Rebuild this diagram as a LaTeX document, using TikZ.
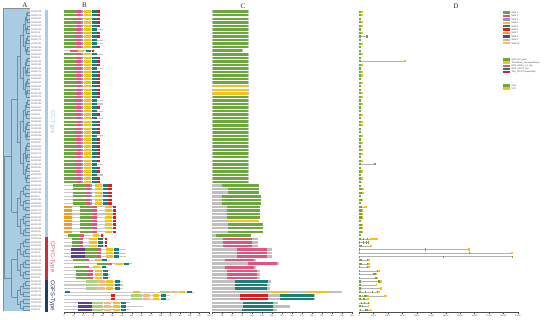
\documentclass[tikz,border=0pt]{standalone}
\usepackage{fontspec}
\setmainfont{Liberation Serif}
\setsansfont{Liberation Sans}
\definecolor{mA}{HTML}{6AA83C}
\definecolor{mB}{HTML}{E5527A}
\definecolor{mC}{HTML}{9B8EC4}
\definecolor{mD}{HTML}{F5C21B}
\definecolor{mE}{HTML}{17807B}
\definecolor{mF}{HTML}{E41A1C}
\definecolor{mG}{HTML}{F39C1F}
\definecolor{mH}{HTML}{5C3D8F}
\definecolor{mI}{HTML}{A9D37E}
\definecolor{mJ}{HTML}{F6B688}
\colorlet{dA}{mA}
\colorlet{dB}{mD}
\colorlet{dC}{mB}
\colorlet{dD}{mE}
\colorlet{dE}{mF}
\colorlet{gC}{mA}
\colorlet{gU}{mD}
\definecolor{bbcol}{HTML}{C9C9C9}
\definecolor{cgray}{HTML}{BFBFBF}
\definecolor{treebg}{HTML}{A8CDE2}
\definecolor{treeln}{HTML}{6E8EA3}
\definecolor{grpCC}{HTML}{A6CEE6}
\definecolor{grpCPYC}{HTML}{D02B3C}
\definecolor{grpCGFS}{HTML}{22396B}
\tikzset{
  treeline/.style={draw=treeln, line width=0.3pt},
  leafname/.style={anchor=west, inner sep=0pt, text=black!60, font=\sffamily\fontsize{2.3}{2.6}\selectfont},
  axlab/.style={inner sep=0pt, text=black!75, font=\sffamily\fontsize{2}{2.4}\selectfont},
  axline/.style={draw=black!70, line width=0.3pt},
  grouplab/.style={rotate=-90, inner sep=0pt, font=\sffamily\fontsize{5.8}{6}\selectfont},
  legtext/.style={anchor=west, inner sep=0pt, text=black!75, font=\sffamily\fontsize{2.2}{2.5}\selectfont},
  panel/.style={inner sep=0pt, text=black!85, font=\fontsize{7}{8}\selectfont},
  gline/.style={draw=black!30, line width=0.35pt}
}
\newcommand\Yof[1]{\pgfmathsetmacro\Y{11.7+(#1-1)*3.55}}
\newcommand\brow[3]{\Yof{#1}%
  \fill[bbcol] (64,\Y-0.55) rectangle (#2,\Y+0.55);%
  \edef\seglist{#3}%
  \foreach \a/\b/\c in \seglist {\fill[\c] (\a,\Y-1.2) rectangle (\b,\Y+1.2);}}
\newcommand\crow[3]{\Yof{#1}%
  \fill[cgray] (212,\Y-1.25) rectangle (#2,\Y+1.25);%
  \edef\seglist{#3}%
  \foreach \a/\b/\c in \seglist {\fill[\c] (\a,\Y-1.25) rectangle (\b,\Y+1.25);}}
\newcommand\drow[3]{\Yof{#1}%
  \draw[gline] (359,\Y) -- (#2,\Y);%
  \edef\seglist{#3}%
  \foreach \a/\b/\c in \seglist {\fill[\c] (\a,\Y-1.1) rectangle (\b,\Y+1.1);}}
\newcommand\clade[3]{%
  \begingroup
  \ifnum#1=#2\relax
    \pgfmathsetmacro\yy{11.7+(#1-1)*3.55}%
    \draw[treeline] (#3,\yy) -- (30,\yy);%
    \xdef\cladey{\yy}%
  \else
    \pgfmathtruncatemacro\mm{(#1+#2)/2}%
    \ifnum#1=1 \ifnum#2=85 \def\mm{64}\fi\fi
    \ifnum#1=1 \ifnum#2=64 \def\mm{49}\fi\fi
    \ifnum#1=65 \ifnum#2=85 \def\mm{76}\fi\fi
    \pgfmathtruncatemacro\mq{\mm+1}%
    \pgfmathsetmacro\xc{#3+(29-#3)*0.3}%
    \edef\next{\noexpand\clade{#1}{\mm}{\xc}}\next
    \let\yl\cladey
    \edef\next{\noexpand\clade{\mq}{#2}{\xc}}\next
    \let\yr\cladey
    \draw[treeline] (#3,\yl) -- (\xc,\yl) (#3,\yr) -- (\xc,\yr) (#3,\yl) -- (#3,\yr);%
    \pgfmathsetmacro\ym{(\yl+\yr)/2}%
    \xdef\cladey{\ym}%
  \fi
  \endgroup}
\def\PA{64.3/76/mA,76/81/mB,81/83.3/mC,84/90.7/mD,92.3/97/mE,97.3/100/mF}
\def\PB{64.3/76/mA,76/81/mB,81/83.3/mC,84/90.7/mD,92.3/97/mE}
\def\PC{73/86/mA,86/90/mB,90/91.5/mC,95/102/mD,103/108/mE,108/112/mF}
\def\PD{64.3/72/mG,80/92/mA,92/97/mB,105/111.7/mD,113.3/115.7/mF}
\def\PE{71.7/79/mA,79/83.3/mB,89.3/96.7/mD,98.3/103.3/mE,105/106.7/mF}
\def\PF{71/85/mH,85/96.7/mA,96.7/101/mB,106/112.7/mD,114/119.3/mE}
\def\PG{76/87.3/mA,87.3/92.7/mB,95/101.7/mD,103.3/108.3/mE}
\def\PH{86/96.7/mI,96.7/105/mJ,106/112.7/mD,115/120/mE}
\def\PI{111/115/mF,131/142/mI,143/150/mJ,153/159/mD,161/166/mE}
\def\PJ{78/92/mH,92/103/mI,104/111/mJ,113/120/mD,121/126/mE}
\def\QA{359/361.3/gC}
\def\QB{359/361.3/gC,361.3/363.3/gU}
\begin{document}
\begin{tikzpicture}[x=1pt,y=-1pt]
\path[use as bounding box, fill=white] (0,0) rectangle (550,320);
% panel letters
\node[panel] (lA) at (25,5) {A};
\node[panel] (lB) at (84.5,5) {B};
\node[panel] (lC) at (243,6.5) {C};
\node[panel] (lD) at (456,6.5) {D};
% tree
\fill[treebg] (3.3,8.3) rectangle (30,311.2);
\draw[draw=black!45, line width=0.8pt] (3.3,311.2) -- (3.3,8.3) -- (30,8.3);
\clade{1}{85}{4.2}
% leaf names
\foreach \r in {1,...,85} {%
  \pgfmathtruncatemacro\gn{mod(\r*37,85)+1}%
  \Yof{\r}%
  \node[leafname] (g\r) at (30.6,\Y) {GhGRX\gn};}
% group bars
\fill[grpCC] (45,9.9) rectangle (48.3,237.1);
\fill[grpCPYC] (45,237.1) rectangle (48.3,279.7);
\fill[grpCGFS] (45,279.7) rectangle (48.3,311.6);
\node[grouplab, text=grpCC] (tCC) at (52.5,122) {CC-Type};
\node[grouplab, text=grpCPYC!80] (tCPYC) at (52.3,257) {CPYC-Type};
\node[grouplab, text=grpCGFS] (tCGFS) at (52.3,295.5) {CGFS-Type};
% ---------- B: motifs ----------
\foreach \r in {1,2,3,4,5,7,8,11,14,15,16,18,19,20,21,22,23,24,25,28,30,32,33,34,35,37,38,39,40,41,42,43,45,46,48,49} {\brow{\r}{100}{\PA}}
\foreach \r in {6,9,10,13,17,26,27,29,31,36,44,47} {\brow{\r}{103}{\PB}}
\brow{12}{94.5}{70/76.7/mB,76.7/77.7/mC,77.7/84.3/mD,86/90.7/mE,91.7/94/mF}
\foreach \r in {50,...,55} {\brow{\r}{112}{\PC}}
\foreach \r in {56,...,63} {\brow{\r}{116}{\PD}}
\brow{64}{104}{68.3/80/mA,80/84.3/mB,92.7/99.3/mD,101/103.3/mF}
\foreach \r in {65,66,67} {\brow{\r}{107}{\PE}}
\foreach \r in {68,69,70} {\brow{\r}{126}{\PF}}
\brow{71}{110}{73.3/85/mA,85/89.3/mB,95/101.7/mD,102.3/107.3/mE}
\brow{72}{131.7}{96.7/106.7/mA,106.7/111.7/mB,115/122.7/mD,124/129/mE}
\brow{73}{108}{74/85/mA,85/89.3/mB,93.3/100/mD,101.7/106/mE}
\foreach \r in {74,75,76} {\brow{\r}{110}{\PG}}
\foreach \r in {77,78,79} {\brow{\r}{123.3}{\PH}}
\brow{80}{194}{64.5/70/mE,133/140/mD,160/170/mI,171/178/mJ,179/185/mD,187/192/mE}
\foreach \r in {81,82} {\brow{\r}{170}{\PI}}
\brow{83}{130}{\PJ}
\brow{84}{143}{\PJ}
\brow{85}{130}{\PJ}
% B axis
\draw[axline] (64,313.8) -- (64,312.6) -- (209,312.6) -- (209,313.8);
\foreach \k in {0,...,15} {%
  \pgfmathsetmacro\xx{64+\k*9.667}%
  \pgfmathtruncatemacro\lab{\k*30}%
  \draw[axline] (\xx,312.6) -- (\xx,313.4);
  \node[axlab] (bt\k) at (\xx,315.6) {\lab};}
% ---------- C: domains ----------
\foreach \r in {1,...,11,13,14,15,16,17,18,19,20,21,25,26,27,28,29,30,31,32,33,34,35,36,37,38,39,40,41,42,43,44,45,46,47,48,49} {\crow{\r}{249}{213/248.3/dA}}
\crow{12}{243}{213/242/dA}
\foreach \r in {22,23,24} {\crow{\r}{249}{213/248.3/dB}}
\crow{50}{259.3}{221.7/259.3/dA}
\foreach \r in {51,52} {\crow{\r}{259.3}{227.7/259.3/dA}}
\foreach \r in {53,54,55} {\crow{\r}{260.7}{221.7/260.7/dA}}
\foreach \r in {56,...,59} {\crow{\r}{260.3}{226.7/260.3/dA}}
\crow{60}{258.7}{226.7/258.7/dB}
\foreach \r in {61,62,63} {\crow{\r}{263.3}{228.3/263.3/dA}}
\crow{64}{251}{216/251/dA}
\foreach \r in {65,66,67} {\crow{\r}{258.3}{222.7/251.7/dC}}
\foreach \r in {68,69,70} {\crow{\r}{272.3}{236.7/266.7/dC}}
\crow{71}{255.7}{225/254/dC}
\crow{72}{279}{247.7/277.3/dC}
\crow{73}{255.7}{225/254/dC}
\foreach \r in {74,75,76} {\crow{\r}{260}{226.7/257.3/dC}}
\crow{77}{270.7}{235/267.7/dD}
\foreach \r in {78,79} {\crow{\r}{270}{235/266.7/dD}}
\crow{80}{341.7}{270/289.3/dB,306/329.3/dB}
\foreach \r in {81,82} {\crow{\r}{315}{240/267.7/dE,280/314.3/dD}}
\crow{83}{278.3}{242.7/273.3/dD}
\crow{84}{290}{242.7/273.3/dD}
\crow{85}{277.3}{241.7/272.7/dD}
% C axis
\draw[axline] (212,313.8) -- (212,312.6) -- (352,312.6) -- (352,313.8);
\foreach \k in {0,...,14} {%
  \pgfmathsetmacro\xx{212+\k*10}%
  \pgfmathtruncatemacro\lab{\k*30}%
  \draw[axline] (\xx,312.6) -- (\xx,313.4);
  \node[axlab] (ct\k) at (\xx,315.6) {\lab};}
% ---------- D: gene structure ----------
\foreach \r in {1,2,4,5,7,10,13,16,18,19,21,24,25,27,30,32,33,36,38,40,41,43,46,48} {\drow{\r}{363.3}{\QB}}
\foreach \r in {3,6,9,11,12,14,17,20,22,23,26,28,29,31,34,35,37,39,42,45,47} {\drow{\r}{361.3}{\QA}}
\drow{8}{368}{359/360.5/gC,365.5/367.5/gC}
\drow{15}{405.5}{359/361/gC,403.5/405.5/gU}
\drow{44}{376}{359/361/gC,374/376/gC}
\drow{49}{362.3}{359/361/gC}
\drow{50}{360.7}{359/360.7/gC}
\foreach \r in {51,52} {\drow{\r}{363.7}{359/361.7/gC,361.7/363.7/gU}}
\drow{53}{360.7}{359/360.7/gC}
\drow{54}{362.3}{359/361.7/gC,361.7/362.3/gU}
\drow{55}{360.7}{359/360.7/gC}
\drow{56}{367}{359/361.7/gC,364.3/367/gU}
\foreach \r in {57,58} {\drow{\r}{363}{359/361.7/gC,361.7/363/gU}}
\drow{59}{362.3}{359/361.7/gC,361.7/362.3/gU}
\drow{60}{360.7}{359/360.7/gC}
\foreach \r in {61,62,63} {\drow{\r}{363}{359/361.7/gC,361.7/363/gU}}
\drow{64}{360.7}{359/360.7/gC}
\drow{65}{377.7}{359/360.7/gC,363.3/364/gC,366.7/367.3/gC,370/377.7/gU}
\drow{66}{369}{359/359.7/gC,363/363.7/gC,366/366.7/gC,368.3/369/gC}
\drow{67}{371.7}{359/361.7/gC,370/371.7/gU}
\drow{68}{470}{359/360/gC,425/426/gC,468.3/470/gU}
\drow{69}{512.7}{359/360/gC,469/470/gC,511/512.7/gU}
\drow{70}{512.3}{359/360/gC,443/444/gC,511.5/512.3/gC}
\foreach \r in {71,72} {\drow{\r}{370}{359/361.7/gC,366.7/368.3/gC,368.3/370/gU}}
\drow{73}{370}{359/360.3/gC,366.7/368.3/gC,368.3/370/gU}
\drow{74}{380}{359/360.3/gC,376.7/378.3/gC,378.3/380/gU}
\drow{75}{377.3}{359/360.3/gC,373.3/375.7/gC,375.7/377.3/gU}
\drow{76}{377.7}{359/360.3/gC,375/376.7/gC,376.7/377.7/gU}
\drow{77}{382.3}{359/361/gC,378/380/gC,380/382.3/gU}
\drow{78}{376.7}{359/361/gC,375.7/376.7/gU}
\drow{79}{381.7}{359/361/gC,380/381.7/gU}
\drow{80}{380}{359/360.7/gC,365/365.7/gC,371.7/372.3/gC,376.7/377.3/gC,378.3/380/gU}
\drow{81}{386.7}{359/360.7/gC,361.7/363.3/gU,364/366.7/gC,366.7/369/gU,384.3/386.7/gU}
\drow{82}{369}{359/360.7/gC,363.3/365/gC,366.7/369/gU}
\drow{83}{370}{361/362/gC,364/365/gC,368/369/gC}
\drow{84}{369}{359/360.7/gC,362/363/gC,367.7/369/gU}
\drow{85}{371.7}{360/361/gC,365/367.7/gC,370/371/gU}
% D axis
\draw[axline] (359,313.8) -- (359,312.6) -- (518,312.6) -- (518,313.8);
\foreach \k/\lab in {0/0,1/3000,2/6000,3/9000,4/12000,5/15000,6/18000,7/21000,8/24000,9/27000,10/30000,11/33000} {%
  \pgfmathsetmacro\xx{359+\k*14.45}%
  \draw[axline] (\xx,312.6) -- (\xx,313.4);
  \node[axlab] (dt\k) at (\xx,315.6) {\lab};}
% ---------- legends ----------
\foreach \k/\c in {1/mA,2/mB,3/mC,4/mD,5/mE,6/mF,7/mG,8/mH,9/mI,10/mJ} {%
  \pgfmathsetmacro\ly{12.7+(\k-1)*3.4}%
  \fill[\c] (502.7,\ly-1.2) rectangle (510.3,\ly+1.2);
  \node[legtext] (lm\k) at (511.3,\ly) {Motif \k};}
\foreach \k/\c/\t in {1/dA/GRX\_like\_plant,2/dB/Thioredoxin\_like superfamily,3/dC/GRX\_GRXh\_1\_2\_like,4/dD/GRX\_PICOT\_like,5/dE/TRX\_PICOT superfamily} {%
  \pgfmathsetmacro\ly{59.5+(\k-1)*3.2}%
  \fill[\c] (502.7,\ly-1.2) rectangle (510.3,\ly+1.2);
  \node[legtext] (ld\k) at (511.3,\ly) {\t};}
\fill[gC] (502.7,84.3) rectangle (510.3,86.7);
\node[legtext] (lcds) at (511.3,85.5) {CDS};
\fill[gU] (502.7,87.5) rectangle (510.3,89.9);
\node[legtext] (lutr) at (511.3,88.7) {UTR};
\end{tikzpicture}
\end{document}
